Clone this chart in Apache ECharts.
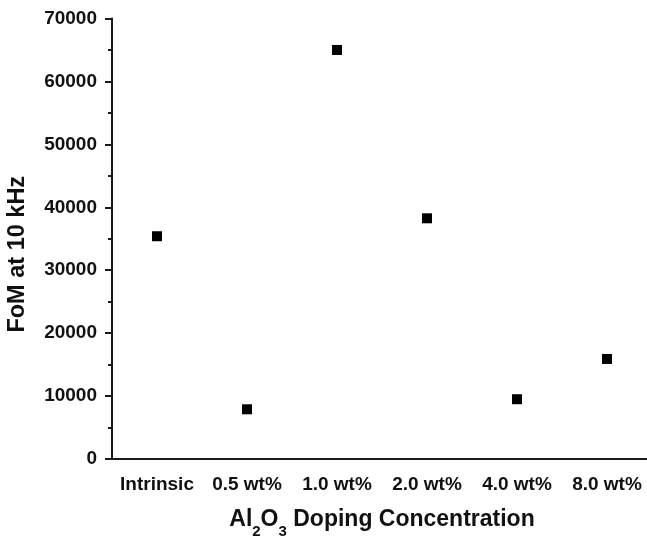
<!DOCTYPE html>
<html>
<head>
<meta charset="utf-8">
<script src="https://cdn.jsdelivr.net/npm/echarts@6/dist/echarts.min.js"></script>
<style>
  html, body { margin: 0; padding: 0; background: #fff; }
  #chart { width: 647px; height: 539px; }
</style>
</head>
<body>
<div id="chart"></div>
<script>
// data
var categories = ["Intrinsic", "0.5 wt%", "1.0 wt%", "2.0 wt%", "4.0 wt%", "8.0 wt%"];
var fomValues = [35400, 7900, 65000, 38250, 9500, 15900];
var yTicks = [0, 10000, 20000, 30000, 40000, 50000, 60000, 70000];

var FONT = "'Liberation Sans', Arial, sans-serif";
var INK = "#111";

var chart = echarts.init(document.getElementById("chart"));

chart.setOption({
  animation: false,
  backgroundColor: "#fff",
  grid: { left: 112, top: 18.5, bottom: 80, width: 540, outerBoundsMode: "none", containLabel: false },
  xAxis: {
    type: "category",
    data: categories,
    boundaryGap: true,
    name: "{n|Al}{s|2}{n|O}{s|3}{n| Doping Concentration}",
    nameLocation: "middle",
    nameGap: 49,
    nameTextStyle: {
      rich: {
        n: { fontFamily: FONT, fontWeight: "bold", fontSize: 23, color: INK, lineHeight: 31, verticalAlign: "top" },
        s: { fontFamily: FONT, fontWeight: "bold", fontSize: 15, color: INK, lineHeight: 31, verticalAlign: "bottom" }
      }
    },
    axisLine: { lineStyle: { color: "#1a1a1a", width: 2 } },
    axisTick: { alignWithLabel: true, interval: 0, length: 7, lineStyle: { color: "#1a1a1a", width: 2 } },
    axisLabel: { interval: 0, color: INK, fontFamily: FONT, fontWeight: "bold", fontSize: 19, margin: 16 },
    splitLine: { show: false }
  },
  yAxis: {
    type: "value",
    min: yTicks[0],
    max: yTicks[yTicks.length - 1],
    interval: 10000,
    name: "FoM at 10 kHz",
    nameLocation: "middle",
    nameGap: 82,
    nameTextStyle: { color: INK, fontFamily: FONT, fontWeight: "bold", fontSize: 23.5, padding: [0, 31, 0, 0] },
    axisLine: { show: true, lineStyle: { color: "#1a1a1a", width: 2 } },
    axisTick: { show: true, length: 7, lineStyle: { color: "#1a1a1a", width: 2 } },
    minorTick: { show: true, splitNumber: 2, length: 4, lineStyle: { color: "#1a1a1a", width: 2 } },
    axisLabel: {
      color: INK, fontFamily: FONT, fontWeight: "bold", fontSize: 19, margin: 15,
      formatter: function (v) { return String(v); }
    },
    splitLine: { show: false }
  },
  series: [{
    type: "scatter",
    data: fomValues,
    symbol: "rect",
    symbolSize: 10,
    itemStyle: { color: "#000", opacity: 1 }
  }]
});
</script>
</body>
</html>
